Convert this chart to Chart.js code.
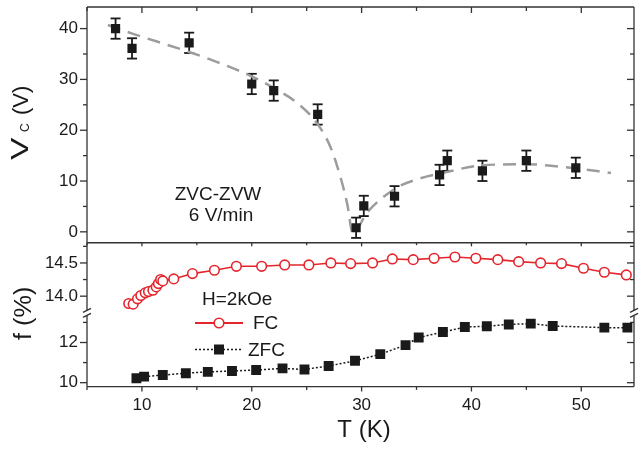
<!DOCTYPE html>
<html>
<head>
<meta charset="utf-8">
<script src="https://cdn.jsdelivr.net/npm/chart.js@4.4.0/dist/chart.umd.min.js"></script>
<style>
  html, body { margin: 0; padding: 0; background: #fff; }
  #wrap { width: 641px; height: 449px; }
</style>
</head>
<body>
<div id="wrap"><canvas id="chart" width="641" height="449"></canvas></div>
<script>
// Top panel: critical voltage V_C vs T, with error bars
const vcT   = [7.6, 9.1, 14.3, 20.0, 22.0, 26.0, 29.5, 30.2, 33.0, 37.1, 37.8, 41.0, 45.0, 49.5];
const vcVal = [40.0, 36.1, 37.2, 29.1, 27.8, 23.1, 0.8, 5.1, 7.0, 11.2, 14.0, 12.0, 14.0, 12.6];
const vcErr = [2, 2, 2, 2, 2, 2, 2, 2, 2, 2, 2, 2, 2, 2];

// dashed guide line
const guideT = [6.9, 9.0, 11.3, 14.3, 16.5, 20.0, 22.0, 24.0, 26.0, 27.2, 28.1, 28.7, 29.2, 30.5, 33.2, 35.0, 37.4, 41.0, 45.0, 49.4, 52.7];
const guideV = [40.7, 39.1, 37.5, 35.4, 33.7, 30.6, 28.3, 25.6, 21.2, 16.5, 10.6, 5.4, -0.3, 3.8, 8.7, 10.3, 11.6, 13.1, 13.3, 12.5, 11.6];

// Bottom panel: f (%) for FC and ZFC
const fcT = [8.8, 9.2, 9.6, 9.9, 10.3, 10.6, 11.0, 11.3, 11.5, 11.7, 11.9, 12.9, 14.6, 16.6, 18.6, 20.9, 23.0, 25.2, 27.2, 29.0, 31.0, 32.8, 34.7, 36.6, 38.5, 40.4, 42.4, 44.3, 46.3, 48.2, 50.2, 52.1, 54.1];
const fcVal = [13.89, 13.88, 13.96, 14.01, 14.05, 14.07, 14.09, 14.14, 14.19, 14.25, 14.23, 14.26, 14.34, 14.39, 14.45, 14.45, 14.47, 14.47, 14.50, 14.49, 14.50, 14.56, 14.55, 14.57, 14.59, 14.57, 14.55, 14.52, 14.50, 14.49, 14.42, 14.36, 14.32];
const zfcT = [9.5, 10.2, 11.9, 14.0, 16.0, 18.2, 20.4, 22.8, 24.8, 27.0, 29.4, 31.7, 34.0, 35.2, 37.4, 39.4, 41.4, 43.4, 45.4, 47.4, 52.1, 54.2];
const zfcVal = [10.22, 10.30, 10.38, 10.47, 10.54, 10.58, 10.63, 10.71, 10.66, 10.83, 11.09, 11.42, 11.87, 12.25, 12.52, 12.77, 12.81, 12.90, 12.94, 12.82, 12.74, 12.74];

// ticks
const tTicks = [10, 20, 30, 40, 50];
const tMinor = [5, 15, 25, 35, 45];
const vcTicks = [0, 10, 20, 30, 40];
const vcMinor = [5, 15, 25, 35];
const fcTicks = [14.0, 14.5];
const fcMinor = [14.25, 14.75];
const zfcTicks = [10, 12];
const zfcMinor = [11, 13];

const RED = '#e3262d';
const INK = '#1a1a1a';
const FONT = '"Liberation Sans", Arial, sans-serif';

Chart.defaults.font.family = FONT;
Chart.defaults.color = INK;

const pts = (xs, ys) => xs.map((x, i) => ({ x: x, y: ys[i] }));
const fixTicks = list => s => { s.ticks = list.map(v => ({ value: v })); };

function line(ctx, x1, y1, x2, y2) {
  ctx.beginPath();
  ctx.moveTo(x1, y1);
  ctx.lineTo(x2, y2);
  ctx.stroke();
}

// rotated text, reading bottom to top
function rotText(ctx, str, size, xBase, yStart, stretch) {
  ctx.save();
  ctx.translate(xBase, yStart);
  ctx.rotate(-Math.PI / 2);
  ctx.scale(stretch, 1);
  ctx.font = size + 'px ' + FONT;
  ctx.textAlign = 'left';
  ctx.textBaseline = 'alphabetic';
  ctx.fillText(str, 0, 0);
  ctx.restore();
}

function noPad(s) {
  s.paddingTop = 0;
  s.paddingBottom = 0;
  s.paddingLeft = 0;
  s.paddingRight = 0;
}

function yScale(min, max, weight, stackWeight, ticks, fmt) {
  return {
    type: 'linear',
    position: 'left',
    stack: 'f',
    stackWeight: stackWeight,
    weight: weight,
    min: min,
    max: max,
    afterBuildTicks: fixTicks(ticks),
    afterFit: s => { s.width = 87; noPad(s); },
    grid: { display: false, drawTicks: false },
    border: { display: false },
    ticks: { padding: 9, autoSkip: false, font: { size: 17 }, color: INK, callback: fmt }
  };
}

const decor = {
  id: 'decor',
  beforeDatasetsDraw(chart) {
    const ctx = chart.ctx;
    const x = chart.scales.x, y = chart.scales.yV;
    ctx.save();
    ctx.strokeStyle = INK;
    ctx.lineWidth = 1.8;
    vcT.forEach((t, i) => {
      const px = x.getPixelForValue(t);
      const lo = y.getPixelForValue(vcVal[i] - vcErr[i]);
      const hi = y.getPixelForValue(vcVal[i] + vcErr[i]);
      line(ctx, px, lo, px, hi);
      line(ctx, px - 5, lo, px + 5, lo);
      line(ctx, px - 5, hi, px + 5, hi);
    });
    ctx.restore();
  },
  afterDraw(chart) {
    const ctx = chart.ctx;
    const a = chart.chartArea;
    const x = chart.scales.x;
    const sV = chart.scales.yV, sF = chart.scales.yFC, sZ = chart.scales.yZFC;
    const sep = sV.bottom;
    const brk = sZ.top;
    ctx.save();
    ctx.strokeStyle = '#333';
    ctx.lineWidth = 1.3;
    // frame
    line(ctx, a.left, a.top, a.right, a.top);
    line(ctx, a.left, sep, a.right, sep);
    line(ctx, a.left, a.bottom, a.right, a.bottom);
    line(ctx, a.left, a.top, a.left, a.bottom);
    line(ctx, a.right, a.top, a.right, a.bottom);

    // x ticks
    const xt = (vals, len) => vals.forEach(v => {
      const px = x.getPixelForValue(v);
      line(ctx, px, a.top, px, a.top + len);
      line(ctx, px, sep, px, sep + len * 0.6);
      line(ctx, px, a.bottom, px, a.bottom + len * 0.8);
    });
    xt(tTicks, 6);
    xt(tMinor, 4);

    // y ticks: outward on the left, inward on the right
    const yt = (s, vals, len) => vals.forEach(v => {
      const py = s.getPixelForValue(v);
      line(ctx, a.left - len, py, a.left, py);
      line(ctx, a.right - len, py, a.right, py);
    });
    yt(sV, vcTicks, 7); yt(sV, vcMinor, 4);
    yt(sF, fcTicks, 7); yt(sF, fcMinor, 4);
    yt(sZ, zfcTicks, 7); yt(sZ, zfcMinor, 4);

    // axis break marks
    [a.left, a.right].forEach(bx => {
      ctx.fillStyle = '#fff';
      ctx.fillRect(bx - 2, brk - 3, 4, 5);
      ctx.strokeStyle = '#333';
      line(ctx, bx - 4, brk - 1, bx + 4, brk - 5);
      line(ctx, bx - 4, brk + 4, bx + 4, brk);
    });
    ctx.restore();

    // texts
    ctx.save();
    ctx.fillStyle = INK;
    ctx.font = '19px ' + FONT;
    ctx.textAlign = 'center';
    ctx.textBaseline = 'alphabetic';
    ctx.fillText('ZVC-ZVW', 218, 200);
    ctx.fillText('6 V/min', 221, 221);
    ctx.textAlign = 'left';
    ctx.fillText('H=2kOe', 202, 305);
    ctx.fillText('FC', 253, 329);
    ctx.fillText('ZFC', 248, 356);
    ctx.font = '24px ' + FONT;
    ctx.textAlign = 'center';
    ctx.fillText('T (K)', 364, 437);

    // legend samples
    ctx.strokeStyle = RED;
    ctx.lineWidth = 2;
    line(ctx, 195, 323, 243, 323);
    ctx.beginPath();
    ctx.arc(219, 323, 4.8, 0, Math.PI * 2);
    ctx.fillStyle = '#fff';
    ctx.fill();
    ctx.lineWidth = 1.6;
    ctx.stroke();
    ctx.strokeStyle = INK;
    ctx.lineWidth = 1.5;
    ctx.setLineDash([2, 2]);
    line(ctx, 195, 349.5, 243, 349.5);
    ctx.setLineDash([]);
    ctx.fillStyle = INK;
    ctx.fillRect(214, 344.5, 10, 10);

    // axis titles
    rotText(ctx, 'V', 24, 28, 160, 1.4);
    rotText(ctx, 'C', 12, 29, 132, 1);
    rotText(ctx, '(V)', 22, 28, 115, 1);
    rotText(ctx, 'f (%)', 23, 31, 340, 1.1);
    ctx.restore();
  }
};

new Chart(document.getElementById('chart'), {
  type: 'scatter',
  data: {
    datasets: [
      {
        data: pts(vcT, vcVal), yAxisID: 'yV', showLine: false,
        pointStyle: 'rect', pointRadius: 6.5, backgroundColor: INK, borderColor: INK, borderWidth: 0
      },
      {
        data: pts(fcT, fcVal), yAxisID: 'yFC', showLine: true,
        borderColor: RED, borderWidth: 1.6, pointStyle: 'circle', pointRadius: 4.8,
        pointBackgroundColor: '#fff', pointBorderColor: RED, pointBorderWidth: 1.6
      },
      {
        data: pts(zfcT, zfcVal), yAxisID: 'yZFC', showLine: true,
        borderColor: INK, borderWidth: 1.5, borderDash: [2, 2], pointStyle: 'rect', pointRadius: 7,
        pointBackgroundColor: INK, pointBorderColor: INK, pointBorderWidth: 0
      },
      {
        data: pts(guideT, guideV), yAxisID: 'yV', showLine: true,
        borderColor: '#9c9c9c', borderWidth: 2.5, borderDash: [13, 8], pointRadius: 0,
        cubicInterpolationMode: 'monotone'
      }
    ]
  },
  options: {
    responsive: false,
    animation: false,
    layout: { padding: { top: 5, right: 1, left: 0, bottom: 0 } },
    plugins: { legend: { display: false }, tooltip: { enabled: false } },
    scales: {
      x: {
        type: 'linear', position: 'bottom', min: 5, max: 54.8,
        afterBuildTicks: fixTicks(tTicks),
        afterFit: s => { s.height = 62.3; noPad(s); },
        grid: { display: false, drawTicks: false },
        border: { display: false },
        ticks: { padding: 8, autoSkip: false, maxRotation: 0, font: { size: 17 }, color: INK }
      },
      yV: yScale(-2.15, 44.25, 3, 237, vcTicks, v => String(v)),
      yFC: yScale(13.741, 14.804, 2, 71, fcTicks, v => v.toFixed(1)),
      yZFC: yScale(9.80, 13.45, 1, 73.7, zfcTicks, v => String(v))
    }
  },
  plugins: [decor]
});
</script>
</body>
</html>
